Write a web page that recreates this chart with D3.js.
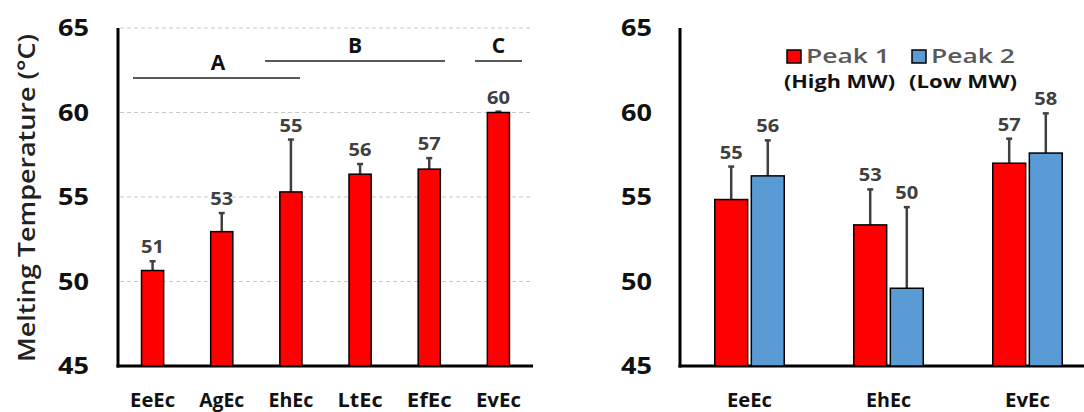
<!DOCTYPE html>
<html>
<head>
<script src="https://d3js.org/d3.v7.min.js"></script>
<style>
  body { margin: 0; background: #fff; }
  svg text { font-family: "Open Sans", "DejaVu Sans", sans-serif; }
</style>
</head>
<body>
<div id="chart"></div>
<script>
// left panel
var leftCats = ["EeEc", "AgEc", "EhEc", "LtEc", "EfEc", "EvEc"];
var leftVals = [50.65, 52.95, 55.3, 56.35, 56.65, 60.0];
var leftErr = [0.55, 1.1, 3.1, 0.6, 0.65, 0.05];
var leftLabels = ["51", "53", "55", "56", "57", "60"];
var groups = [
  { text: "A", x1: 133, x2: 300, ly: 78 },
  { text: "B", x1: 265, x2: 445, ly: 61 },
  { text: "C", x1: 475, x2: 522, ly: 61 }
];

// right panel
var rightCats = ["EeEc", "EhEc", "EvEc"];
var peak1 = [54.85, 53.35, 57.0];
var peak1Err = [1.95, 2.1, 1.45];
var peak1Labels = ["55", "53", "57"];
var peak2 = [56.25, 49.6, 57.6];
var peak2Err = [2.1, 4.8, 2.35];
var peak2Labels = ["56", "50", "58"];
var seriesNames = ["Peak 1", "Peak 2"];
var seriesSub = ["(High MW)", "(Low MW)"];
var seriesColors = ["#ff0000", "#5b9bd5"];

var yTicks = [45, 50, 55, 60, 65];

var svg = d3.select("#chart").append("svg")
    .attr("width", 1084)
    .attr("height", 412);

var y = d3.scaleLinear().domain([45, 65]).range([366, 28]);

function drawAxis(x0, x1, labelX, grid) {
  if (grid) {
    svg.append("g").selectAll("line")
      .data(yTicks.slice(1))
      .enter().append("line")
      .attr("x1", x0 + 2).attr("x2", x1)
      .attr("y1", function(d) { return y(d); })
      .attr("y2", function(d) { return y(d); })
      .attr("stroke", "#c8c8c8")
      .attr("stroke-width", 1)
      .attr("stroke-dasharray", "4,3");
  }
  svg.append("g").selectAll("text")
    .data(yTicks)
    .enter().append("text")
    .attr("x", labelX)
    .attr("y", function(d) { return y(d); })
    .attr("dy", "0.35em")
    .attr("text-anchor", "end")
    .attr("font-size", 24)
    .attr("font-weight", "bold")
    .attr("fill", "#111")
    .attr("textLength", 31)
    .attr("lengthAdjust", "spacingAndGlyphs")
    .text(function(d) { return d; });
  svg.append("line")
    .attr("x1", x0).attr("x2", x0)
    .attr("y1", y(65)).attr("y2", y(45) + 1.5)
    .attr("stroke", "#000").attr("stroke-width", 3);
  svg.append("line")
    .attr("x1", x0 - 1.5).attr("x2", x1)
    .attr("y1", y(45)).attr("y2", y(45))
    .attr("stroke", "#000").attr("stroke-width", 3);
}

function drawBar(g, cx, w, v, e, lab, color) {
  var top = y(v + e);
  g.append("line")
    .attr("x1", cx).attr("x2", cx)
    .attr("y1", y(v)).attr("y2", top)
    .attr("stroke", "#404040").attr("stroke-width", 2.5);
  g.append("line")
    .attr("x1", cx - 3).attr("x2", cx + 3)
    .attr("y1", top).attr("y2", top)
    .attr("stroke", "#404040").attr("stroke-width", 2.5);
  g.append("rect")
    .attr("x", cx - w / 2).attr("y", y(v))
    .attr("width", w).attr("height", y(45) - y(v))
    .attr("fill", color)
    .attr("stroke", "#000").attr("stroke-width", 1.5);
  g.append("text")
    .attr("x", cx).attr("y", top - 8)
    .attr("text-anchor", "middle")
    .attr("font-size", 18)
    .attr("font-weight", "bold")
    .attr("fill", "#404040")
    .attr("textLength", 23)
    .attr("lengthAdjust", "spacingAndGlyphs")
    .text(lab);
}

function xLabels(scale, cats) {
  svg.append("g").selectAll("text")
    .data(cats)
    .enter().append("text")
    .attr("x", function(d) { return scale(d) + scale.bandwidth() / 2; })
    .attr("y", 400)
    .attr("dy", "0.35em")
    .attr("text-anchor", "middle")
    .attr("font-size", 19)
    .attr("font-weight", "bold")
    .attr("fill", "#111")
    .attr("textLength", 45)
    .attr("lengthAdjust", "spacingAndGlyphs")
    .text(function(d) { return d; });
}

// ----- left chart -----
var xL = d3.scaleBand().domain(leftCats).range([118, 533]).paddingInner(0.68).paddingOuter(0.34);
drawAxis(118, 533, 89, true);

var gL = svg.append("g");
leftCats.forEach(function(c, i) {
  drawBar(gL, xL(c) + xL.bandwidth() / 2, xL.bandwidth(), leftVals[i], leftErr[i], leftLabels[i], "#ff0000");
});
xLabels(xL, leftCats);

// significance groups
groups.forEach(function(g) {
  svg.append("line")
    .attr("x1", g.x1).attr("x2", g.x2)
    .attr("y1", g.ly).attr("y2", g.ly)
    .attr("stroke", "#222").attr("stroke-width", 1.5);
  svg.append("text")
    .attr("x", g.text === "A" ? 218 : (g.x1 + g.x2) / 2)
    .attr("y", g.ly - 8)
    .attr("text-anchor", "middle")
    .attr("font-size", 21)
    .attr("font-weight", "bold")
    .attr("fill", "#111")
    .text(g.text);
});

// y title
svg.append("text")
  .attr("transform", "translate(35,198) rotate(-90)")
  .attr("text-anchor", "middle")
  .attr("font-size", 24)
  .attr("font-weight", "600")
  .attr("fill", "#222")
  .attr("textLength", 328)
  .attr("lengthAdjust", "spacingAndGlyphs")
  .text("Melting Temperature (°C)");

// ----- right chart -----
var xR = d3.scaleBand().domain(rightCats).range([680, 1097]).paddingInner(0.5).paddingOuter(0.25);
var xS = d3.scaleBand().domain([0, 1]).range([0, xR.bandwidth()]).paddingInner(0.1);
drawAxis(680, 1084, 652, false);

var gR = svg.append("g");
rightCats.forEach(function(c, i) {
  var vals = [[peak1[i], peak1Err[i], peak1Labels[i]], [peak2[i], peak2Err[i], peak2Labels[i]]];
  vals.forEach(function(v, s) {
    var cx = xR(c) + xS(s) + xS.bandwidth() / 2;
    drawBar(gR, cx, xS.bandwidth(), v[0], v[1], v[2], seriesColors[s]);
  });
});
xLabels(xR, rightCats);

// legend
var legX = [787, 912];
seriesNames.forEach(function(n, i) {
  svg.append("rect")
    .attr("x", legX[i]).attr("y", 50)
    .attr("width", 14).attr("height", 13)
    .attr("fill", seriesColors[i])
    .attr("stroke", "#000").attr("stroke-width", 1.5);
  svg.append("text")
    .attr("x", legX[i] + 19).attr("y", 56)
    .attr("dy", "0.35em")
    .attr("font-size", 19)
    .attr("font-weight", "600")
    .attr("fill", "#595959")
    .attr("textLength", 84)
    .attr("lengthAdjust", "spacingAndGlyphs")
    .text(n);
  svg.append("text")
    .attr("x", legX[i] - 3).attr("y", 82)
    .attr("dy", "0.35em")
    .attr("font-size", 17)
    .attr("font-weight", "bold")
    .attr("fill", "#111")
    .attr("textLength", i === 0 ? 111 : 108)
    .attr("lengthAdjust", "spacingAndGlyphs")
    .text(seriesSub[i]);
});
</script>
</body>
</html>
